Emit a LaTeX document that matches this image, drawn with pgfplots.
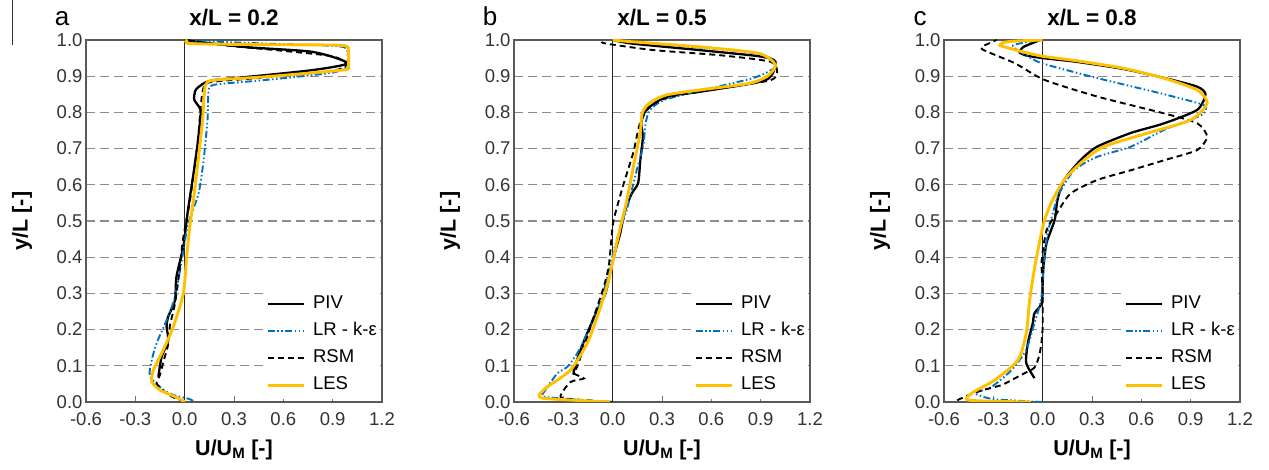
\documentclass[border=0pt]{standalone}
\usepackage{fontspec}
\setmainfont{Liberation Sans}
\usepackage{pgfplots}
\pgfplotsset{compat=1.18}
\definecolor{lesc}{RGB}{255,192,0}
\definecolor{lrc}{RGB}{0,112,192}

\tikzset{
  ylab/.style={rotate=90, anchor=center, font=\bfseries\fontsize{21.5}{21.5}\selectfont},
  plab/.style={anchor=base, font=\fontsize{26}{26}\selectfont},
}
\pgfplotsset{
  panel/.style={
    scale only axis, width=296pt, height=362pt,
    xmin=-0.6, xmax=1.2, ymin=0, ymax=1,
    clip mode=individual,
    xtick={-0.6,-0.3,0,0.3,0.6,0.9,1.2},
    ytick={0,0.1,0.2,0.3,0.4,0.5,0.6,0.7,0.8,0.9,1.0},
    /pgf/number format/assume math mode=true,
    xticklabel style={/pgf/number format/.cd, fixed, fixed zerofill, precision=1, /tikz/.cd, yshift=-7pt},
    yticklabel style={/pgf/number format/.cd, fixed, fixed zerofill, precision=1},
    tick label style={font=\fontsize{18.5}{18.5}\selectfont, text=black!80},
    axis line style={draw=black!65, line width=1.2pt},
    tick align=inside, xtick pos=lower, ytick pos=left,
    ytick style={draw=none},
    xtick style={draw=black!55, line width=0.8pt},
    major tick length=6pt,
    ymajorgrids,
    major grid style={black!45, line width=1.3pt, dash pattern=on 9pt off 5pt},
    no markers,
    title style={font=\bfseries\fontsize{22.5}{22.5}\selectfont, at={(rel axis cs:0.5,1)}, anchor=center, yshift=16pt},
    xlabel style={font=\bfseries\fontsize{21.5}{21.5}\selectfont, at={(rel axis cs:0.5,0)}, anchor=center, yshift=-48pt},
    legend cell align=left,
    legend image code/.code={\draw[#1] (0pt,0pt) -- (36pt,0pt);},
    legend style={at={(rel axis cs:1,0)}, anchor=south east, xshift=-3pt, yshift=3pt,
      draw=none, fill=white, inner sep=0pt, row sep=0pt,
      font=\fontsize{18.5}{18.5}\selectfont,
      nodes={inner ysep=5pt, inner xsep=2pt, text height=13pt, text depth=4pt}},
    /tikz/every odd column/.append style={column sep=6pt},
  },
  piv/.style={black, line width=2.3pt, smooth, tension=0.4},
  lr/.style={lrc, line width=1.9pt, smooth, tension=0.4, dash pattern=on 7pt off 2.5pt on 1.5pt off 2.5pt on 1.5pt off 2.5pt},
  rsm/.style={black, line width=1.9pt, smooth, tension=0.4, dash pattern=on 6pt off 4pt},
  les/.style={lesc, line width=2.9pt, smooth, tension=0.4},
}

\begin{document}
\begin{tikzpicture}
\path[use as bounding box] (0,0) rectangle (1269pt,470pt);
\draw[black!80, line width=1pt] (12.5pt,470pt) -- (12.5pt,425pt);

% ---------------- panel a ----------------
\begin{axis}[panel, at={(86pt,68pt)}, anchor=south west, title={x/L = 0.2}, xlabel={U/U\textsubscript{M} [-]}]
\addplot[black!85, line width=0.9pt, forget plot] coordinates {(0,0) (0,1)};
\addplot[piv] coordinates {(-0.16,0.07) (-0.14,0.125) (-0.10,0.17) (-0.11,0.208) (-0.10,0.236) (-0.059,0.28) (-0.05,0.346) (-0.008,0.43) (0.02,0.53) (0.05,0.62) (0.075,0.70) (0.09,0.76) (0.097,0.807) (0.058,0.835) (0.067,0.862) (0.115,0.88) (0.176,0.889) (0.38,0.898) (0.78,0.917) (0.99,0.936) (0.78,0.967) (0.38,0.98) (0.097,0.994) (0.0,1.0)};
\addlegendentry{PIV}
\addplot[lr] coordinates {(0.05,0.003) (0.03,0.008) (-0.1,0.025) (-0.21,0.069) (-0.2,0.116) (-0.17,0.163) (-0.11,0.226) (-0.059,0.29) (-0.018,0.39) (0.02,0.49) (0.085,0.577) (0.115,0.668) (0.139,0.779) (0.145,0.856) (0.176,0.876) (0.48,0.889) (0.90,0.91) (0.99,0.93) (0.99,0.96) (0.95,0.982) (0.5,0.99) (0.1,0.997) (0.0,1.0)};
\addlegendentry{LR - k-ε}
\addplot[rsm] coordinates {(0.0,0.0) (-0.1,0.02) (-0.17,0.05) (-0.15,0.075) (-0.13,0.11) (-0.1,0.16) (-0.09,0.21) (-0.06,0.27) (-0.035,0.35) (-0.01,0.45) (0.03,0.55) (0.06,0.65) (0.08,0.72) (0.095,0.80) (0.11,0.86) (0.15,0.883) (0.45,0.895) (0.9,0.915) (0.985,0.933) (0.9,0.955) (0.6,0.97) (0.25,0.985) (0.0,1.0)};
\addlegendentry{RSM}
\addplot[les] coordinates {(0.0,0.0) (-0.05,0.013) (-0.15,0.033) (-0.2,0.056) (-0.19,0.088) (-0.13,0.144) (-0.069,0.208) (-0.008,0.30) (0.012,0.40) (0.03,0.48) (0.053,0.558) (0.08,0.66) (0.109,0.779) (0.115,0.826) (0.127,0.876) (0.176,0.889) (0.48,0.898) (0.96,0.917) (0.995,0.928) (0.995,0.968) (0.96,0.985) (0.5,0.987) (0.036,0.99) (0.018,1.0)};
\addlegendentry{LES}
\node[ylab] at (axis cs:-0.989,0.5) {y/L [-]};
\node[plab] at (axis cs:-0.746,1.0387) {a};
\end{axis}

% ---------------- panel b ----------------
\begin{axis}[panel, at={(514pt,68pt)}, anchor=south west, title={x/L = 0.5}, xlabel={U/U\textsubscript{M} [-]}]
\addplot[black!85, line width=0.9pt, forget plot] coordinates {(0,0) (0,1)};
\addplot[piv] coordinates {(-0.236,0.075) (-0.236,0.088) (-0.196,0.143) (-0.155,0.19) (-0.094,0.254) (-0.044,0.30) (0.006,0.40) (0.046,0.466) (0.07,0.522) (0.115,0.575) (0.155,0.605) (0.168,0.668) (0.184,0.733) (0.174,0.77) (0.204,0.807) (0.325,0.843) (0.53,0.857) (0.93,0.889) (0.99,0.94) (0.89,0.955) (0.53,0.972) (0.12,0.99) (0.0,1.0)};
\addlegendentry{PIV}
\addplot[lr] coordinates {(-0.01,0.0) (-0.2,0.006) (-0.42,0.015) (-0.408,0.033) (-0.337,0.079) (-0.276,0.097) (-0.216,0.134) (-0.135,0.208) (-0.065,0.29) (-0.014,0.38) (0.024,0.447) (0.085,0.53) (0.146,0.64) (0.187,0.71) (0.2,0.77) (0.227,0.806) (0.31,0.834) (0.55,0.862) (0.856,0.895) (0.99,0.925) (0.96,0.95) (0.80,0.968) (0.40,0.984) (0.0,1.0)};
\addlegendentry{LR - k-ε}
\addplot[rsm] coordinates {(0.0,0.0) (-0.196,0.006) (-0.317,0.014) (-0.257,0.055) (-0.175,0.065) (-0.236,0.079) (-0.216,0.097) (-0.175,0.152) (-0.115,0.235) (-0.054,0.318) (-0.024,0.374) (-0.01,0.44) (0.006,0.503) (0.065,0.60) (0.126,0.69) (0.166,0.77) (0.227,0.816) (0.35,0.843) (0.65,0.866) (0.96,0.889) (1.0,0.912) (0.96,0.94) (0.65,0.958) (0.25,0.972) (-0.04,0.99) (-0.06,0.995)};
\addlegendentry{RSM}
\addplot[les] coordinates {(-0.014,0.0) (-0.196,0.004) (-0.418,0.01) (-0.448,0.019) (-0.397,0.042) (-0.257,0.088) (-0.155,0.162) (-0.094,0.235) (-0.03,0.327) (0.006,0.40) (0.045,0.48) (0.085,0.555) (0.126,0.65) (0.166,0.74) (0.18,0.798) (0.224,0.826) (0.325,0.848) (0.53,0.862) (0.83,0.88) (0.94,0.90) (0.99,0.931) (0.89,0.963) (0.53,0.981) (0.12,0.995) (0.0,1.0)};
\addlegendentry{LES}
\node[ylab] at (axis cs:-0.989,0.5) {y/L [-]};
\node[plab] at (axis cs:-0.746,1.0387) {b};
\end{axis}

% ---------------- panel c ----------------
\begin{axis}[panel, at={(944pt,68pt)}, anchor=south west, title={x/L = 0.8}, xlabel={U/U\textsubscript{M} [-]}]
\addplot[black!85, line width=0.9pt, forget plot] coordinates {(0,0) (0,1)};
\addplot[piv] coordinates {(-0.05,0.066) (-0.1,0.108) (-0.09,0.163) (-0.06,0.218) (-0.05,0.245) (-0.006,0.273) (0.0,0.33) (0.006,0.38) (0.024,0.44) (0.073,0.503) (0.09,0.558) (0.13,0.613) (0.23,0.668) (0.33,0.705) (0.535,0.743) (0.74,0.77) (0.94,0.807) (0.99,0.85) (0.94,0.871) (0.74,0.895) (0.49,0.92) (0.2,0.94) (0.0,0.95) (-0.1,0.957) (-0.14,0.966) (-0.12,0.98) (-0.07,0.99) (-0.016,1.0)};
\addlegendentry{PIV}
\addplot[lr] coordinates {(0.0,0.0) (-0.3,0.008) (-0.41,0.024) (-0.31,0.042) (-0.19,0.088) (-0.1,0.144) (-0.05,0.218) (-0.01,0.282) (0.006,0.374) (0.03,0.466) (0.073,0.54) (0.1,0.576) (0.19,0.64) (0.33,0.677) (0.535,0.705) (0.74,0.752) (0.9,0.78) (0.98,0.797) (0.98,0.82) (0.74,0.85) (0.33,0.895) (0.0,0.935) (-0.09,0.955) (-0.18,0.985) (-0.016,1.0)};
\addlegendentry{LR - k-ε}
\addplot[rsm] coordinates {(-0.52,0.005) (-0.4,0.028) (-0.25,0.047) (-0.13,0.075) (-0.05,0.095) (-0.02,0.13) (-0.006,0.17) (0.0,0.21) (0.0,0.30) (-0.006,0.39) (0.024,0.475) (0.085,0.521) (0.17,0.576) (0.33,0.613) (0.535,0.64) (0.74,0.668) (0.94,0.696) (1.0,0.733) (0.94,0.77) (0.74,0.797) (0.33,0.844) (0.01,0.89) (-0.17,0.936) (-0.37,0.975) (-0.33,0.99) (-0.28,1.0)};
\addlegendentry{RSM}
\addplot[les] coordinates {(-0.07,0.0) (-0.3,0.002) (-0.46,0.006) (-0.43,0.025) (-0.29,0.061) (-0.15,0.116) (-0.1,0.19) (-0.079,0.282) (-0.048,0.374) (-0.008,0.466) (0.018,0.512) (0.06,0.558) (0.13,0.613) (0.23,0.66) (0.37,0.705) (0.64,0.743) (0.9,0.779) (1.0,0.825) (0.94,0.862) (0.74,0.894) (0.49,0.922) (0.2,0.943) (0.0,0.955) (-0.1,0.965) (-0.21,0.978) (-0.26,0.985) (-0.24,0.993) (-0.17,0.997) (0.0,1.0)};
\addlegendentry{LES}
\node[ylab] at (axis cs:-0.989,0.5) {y/L [-]};
\node[plab] at (axis cs:-0.746,1.0387) {c};
\end{axis}
\end{tikzpicture}
\end{document}
